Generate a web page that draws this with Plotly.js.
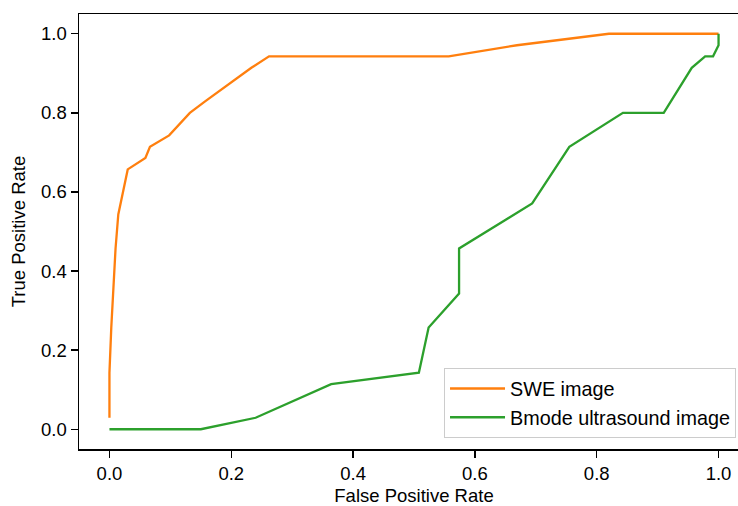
<!DOCTYPE html>
<html>
<head>
<meta charset="utf-8">
<script src="https://cdn.plot.ly/plotly-3.0.1.min.js"></script>
<style>
  html, body { margin: 0; padding: 0; background: #fff; overflow: hidden; }
  #chart { width: 750px; height: 506px; }
</style>
</head>
<body>
<div id="chart"></div>
<script>
// ROC curves: false positive rate vs. true positive rate for two image types
const sweName = "SWE image";
const sweFpr = [0, 0, 0.003, 0.006, 0.010, 0.0145, 0.030, 0.059, 0.0665, 0.098, 0.132, 0.157, 0.209, 0.233, 0.262, 0.557, 0.669, 0.820, 1.0];
const sweTpr = [0.029, 0.143, 0.257, 0.343, 0.457, 0.543, 0.657, 0.686, 0.714, 0.743, 0.800, 0.829, 0.886, 0.914, 0.943, 0.943, 0.971, 1.0, 1.0];

const bmodeName = "Bmode ultrasound image";
const bmodeFpr = [0, 0.150, 0.240, 0.364, 0.508, 0.524, 0.574, 0.574, 0.694, 0.755, 0.843, 0.910, 0.956, 0.978, 0.991, 1.0, 1.0];
const bmodeTpr = [0, 0, 0.029, 0.114, 0.143, 0.257, 0.343, 0.457, 0.571, 0.714, 0.800, 0.800, 0.914, 0.943, 0.943, 0.971, 1.0];

const tickVals = [0, 0.2, 0.4, 0.6, 0.8, 1.0];
const tickText = ["0.0", "0.2", "0.4", "0.6", "0.8", "1.0"];

const FONT = "Liberation Sans, Arial, sans-serif";
const FS = 18.5;
const LEGEND_FS = 19.8;

const traces = [
  {
    x: sweFpr, y: sweTpr, name: sweName, type: "scatter", mode: "lines",
    line: { color: "#ff7f0e", width: 2.3 }
  },
  {
    x: bmodeFpr, y: bmodeTpr, name: bmodeName, type: "scatter", mode: "lines",
    line: { color: "#2ca02c", width: 2.3 }
  }
];

const axisCommon = {
  range: [-0.05, 1.05],
  tickvals: tickVals,
  ticktext: tickText,
  ticks: "outside",
  ticklen: 7,
  tickwidth: 1.3,
  tickcolor: "#000",
  showgrid: false,
  zeroline: false,
  showline: true,
  mirror: true,
  linecolor: "#000",
  linewidth: 1.5,
  tickfont: { family: FONT, size: FS, color: "#000" },
  automargin: false
};

const layout = {
  width: 750,
  height: 506,
  margin: { l: 79, r: 1, t: 14, b: 57 },
  paper_bgcolor: "#fff",
  plot_bgcolor: "#fff",
  font: { family: FONT, size: FS, color: "#000" },
  showlegend: true,
  xaxis: Object.assign({}, axisCommon, {
    title: { text: "False Positive Rate", font: { family: FONT, size: FS, color: "#000" }, standoff: 8 }
  }),
  yaxis: Object.assign({}, axisCommon, {
    title: { text: "True Positive Rate", font: { family: FONT, size: FS, color: "#000" }, standoff: 10 }
  }),
  legend: {
    x: 0.5448, y: 0.025, xanchor: "left", yanchor: "bottom",
    bgcolor: "rgba(255,255,255,0.8)",
    bordercolor: "#cccccc",
    borderwidth: 1,
    font: { family: FONT, size: LEGEND_FS, color: "#000" },
    itemwidth: 55
  }
};

Plotly.newPlot("chart", traces, layout, { displayModeBar: false, staticPlot: true });
</script>
</body>
</html>
